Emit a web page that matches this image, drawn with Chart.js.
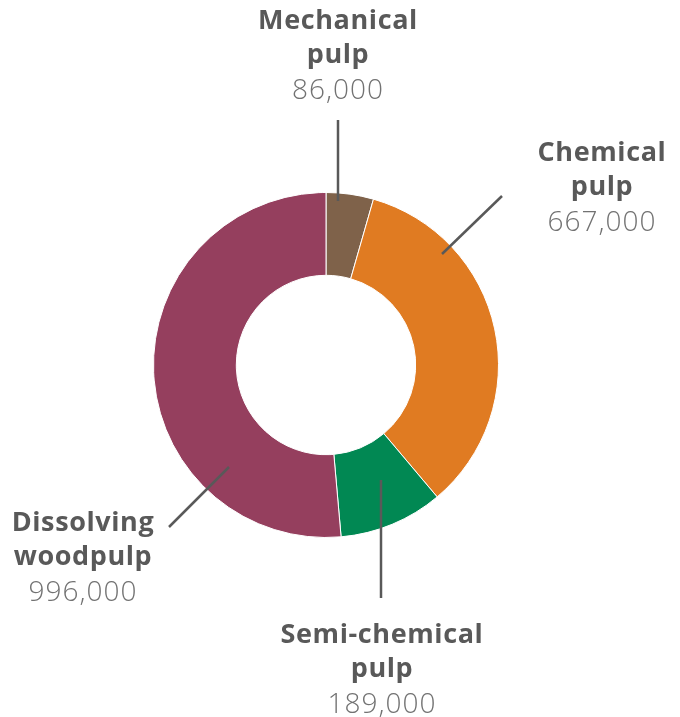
<!DOCTYPE html>
<html>
<head>
<meta charset="utf-8">
<title>Pulp production</title>
<script src="https://cdn.jsdelivr.net/npm/chart.js@4.4.1/dist/chart.umd.min.js"></script>
<style>
  html, body { margin: 0; padding: 0; background: #fff; }
  .wrap { position: relative; width: 680px; height: 717px; }
</style>
</head>
<body>
<div class="wrap"><canvas id="pulpChart" width="680" height="717"></canvas></div>
<script>
// pulp output by grade
const categories = [['Mechanical', 'pulp'], ['Chemical', 'pulp'], ['Semi-chemical', 'pulp'], ['Dissolving', 'woodpulp']];
const values = [86000, 667000, 189000, 996000];
const colors = ['#7f624a', '#e07b22', '#018853', '#953f5e'];

// leader line (from/to) and label centre, in pixels relative to the doughnut centre
const callouts = [
  { from: [12, -164], to: [12, -245], text: [12, -344] },
  { from: [116, -111], to: [176, -169], text: [276, -212] },
  { from: [55, 115], to: [55, 233], text: [56, 270] },
  { from: [-97, 102], to: [-157, 162], text: [-243, 158] }
];

const fmt = v => v.toLocaleString('en-US');

const calloutPlugin = {
  id: 'callouts',
  afterDatasetsDraw(chart) {
    const ctx = chart.ctx;
    const arc = chart.getDatasetMeta(0).data[0];
    const cx = arc.x, cy = arc.y;
    ctx.save();
    callouts.forEach((c, i) => {
      ctx.strokeStyle = '#595959';
      ctx.lineWidth = 2.5;
      ctx.beginPath();
      ctx.moveTo(cx + c.from[0], cy + c.from[1]);
      ctx.lineTo(cx + c.to[0], cy + c.to[1]);
      ctx.stroke();

      const tx = cx + c.text[0];
      let ty = cy + c.text[1];
      ctx.textAlign = 'center';
      ctx.textBaseline = 'middle';
      ctx.fillStyle = '#595959';
      ctx.letterSpacing = '0.6px';
      ctx.font = 'bold 27px "Open Sans", sans-serif';
      categories[i].forEach(line => {
        ctx.fillText(line, tx, ty);
        ty += 34;
      });
      ctx.fillStyle = '#727272';
      ctx.letterSpacing = '1px';
      ctx.font = '300 28px "Open Sans", sans-serif';
      ctx.fillText(fmt(values[i]), tx, ty + 2);
    });
    ctx.restore();
  }
};

new Chart(document.getElementById('pulpChart'), {
  type: 'doughnut',
  data: {
    labels: categories.map(c => c.join(' ')),
    datasets: [{
      data: values,
      backgroundColor: colors,
      borderColor: '#ffffff',
      borderWidth: 1,
      hoverOffset: 0
    }]
  },
  options: {
    responsive: false,
    animation: false,
    cutout: '52%',
    layout: { padding: { left: 153, right: 181, top: 191, bottom: 178 } },
    plugins: {
      legend: { display: false },
      tooltip: { enabled: false }
    }
  },
  plugins: [calloutPlugin]
});
</script>
</body>
</html>
